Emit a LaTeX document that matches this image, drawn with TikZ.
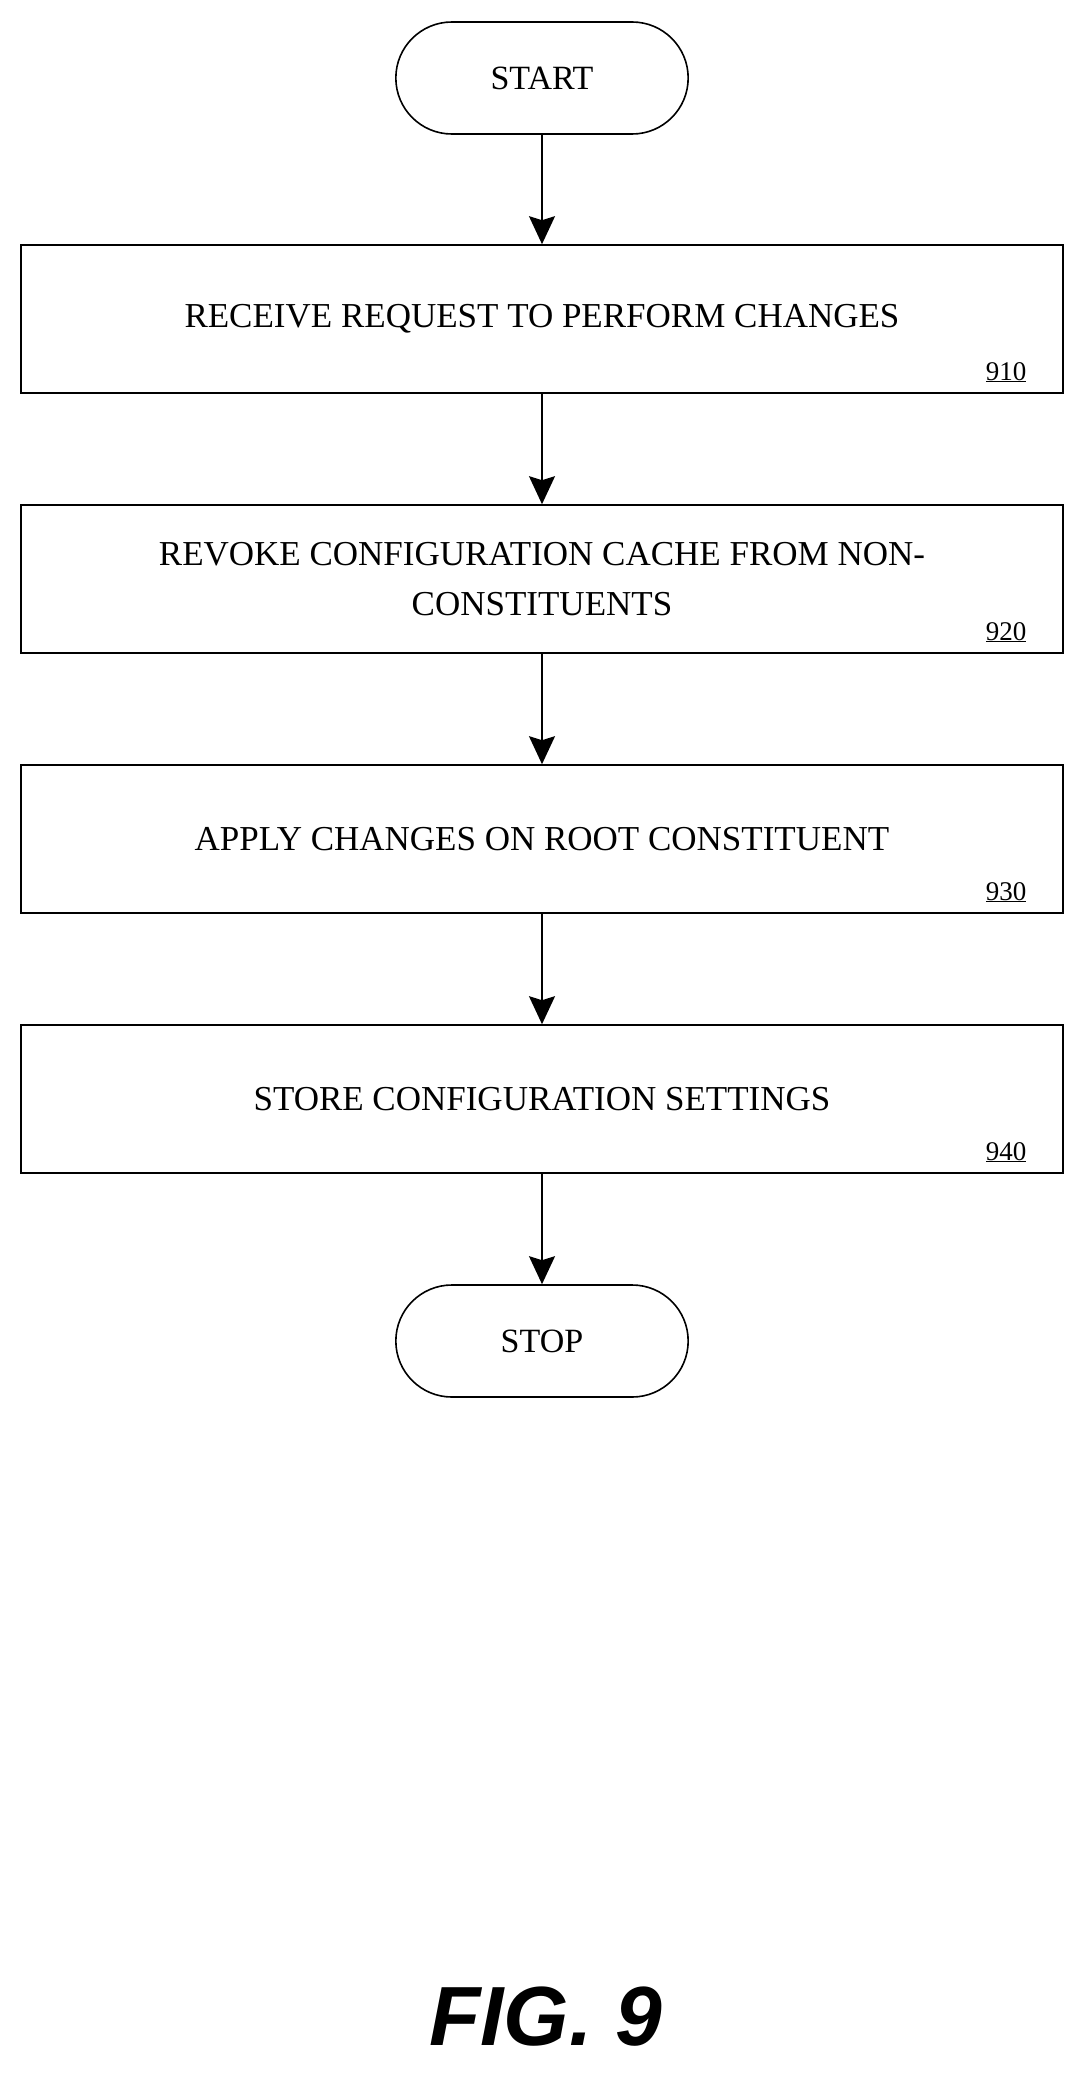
\documentclass[tikz,border=0pt]{standalone}
\usepackage{fontspec}
\setmainfont{Liberation Serif}
\setsansfont{Liberation Sans}
\usetikzlibrary{arrows.meta,shapes.misc}
\begin{document}
\begin{tikzpicture}[x=1pt,y=-1pt,
  box/.style={draw,line width=1.6pt,minimum width=1042pt,minimum height=148pt,inner sep=0pt,font=\fontsize{35}{50}\selectfont,align=center},
  term/.style={draw,line width=1.6pt,rounded rectangle,minimum width=299pt,minimum height=112pt,font=\fontsize{34}{36}\selectfont},
  lab/.style={font=\fontsize{27}{30}\selectfont,anchor=south east},
  arr/.style={line width=1.6pt,-{Stealth[length=28pt,width=26pt,inset=4pt]}}]
\useasboundingbox (0,0) rectangle (1087,2076);
\node[term] (start) at (542,78) {START};
\node[box] (b1) at (542,319) {RECEIVE REQUEST TO PERFORM CHANGES};
\node[box] (b2) at (542,579) {REVOKE CONFIGURATION CACHE FROM NON-\\CONSTITUENTS};
\node[box] (b3) at (542,839) {APPLY CHANGES ON ROOT CONSTITUENT};
\node[box] (b4) at (542,1099) {STORE CONFIGURATION SETTINGS};
\node[term] (stop) at (542,1341) {STOP};
\node[lab] (l1) at ([xshift=-34pt,yshift=8pt]b1.south east) {\underline{910}};
\node[lab] (l2) at ([xshift=-34pt,yshift=8pt]b2.south east) {\underline{920}};
\node[lab] (l3) at ([xshift=-34pt,yshift=8pt]b3.south east) {\underline{930}};
\node[lab] (l4) at ([xshift=-34pt,yshift=8pt]b4.south east) {\underline{940}};
\draw[arr] (start) -- (b1);
\draw[arr] (b1) -- (b2);
\draw[arr] (b2) -- (b3);
\draw[arr] (b3) -- (b4);
\draw[arr] (b4) -- (stop);
\node[font=\sffamily\bfseries\itshape\fontsize{84}{84}\selectfont] (fig) at (546,2017) {FIG. 9};
\end{tikzpicture}
\end{document}
